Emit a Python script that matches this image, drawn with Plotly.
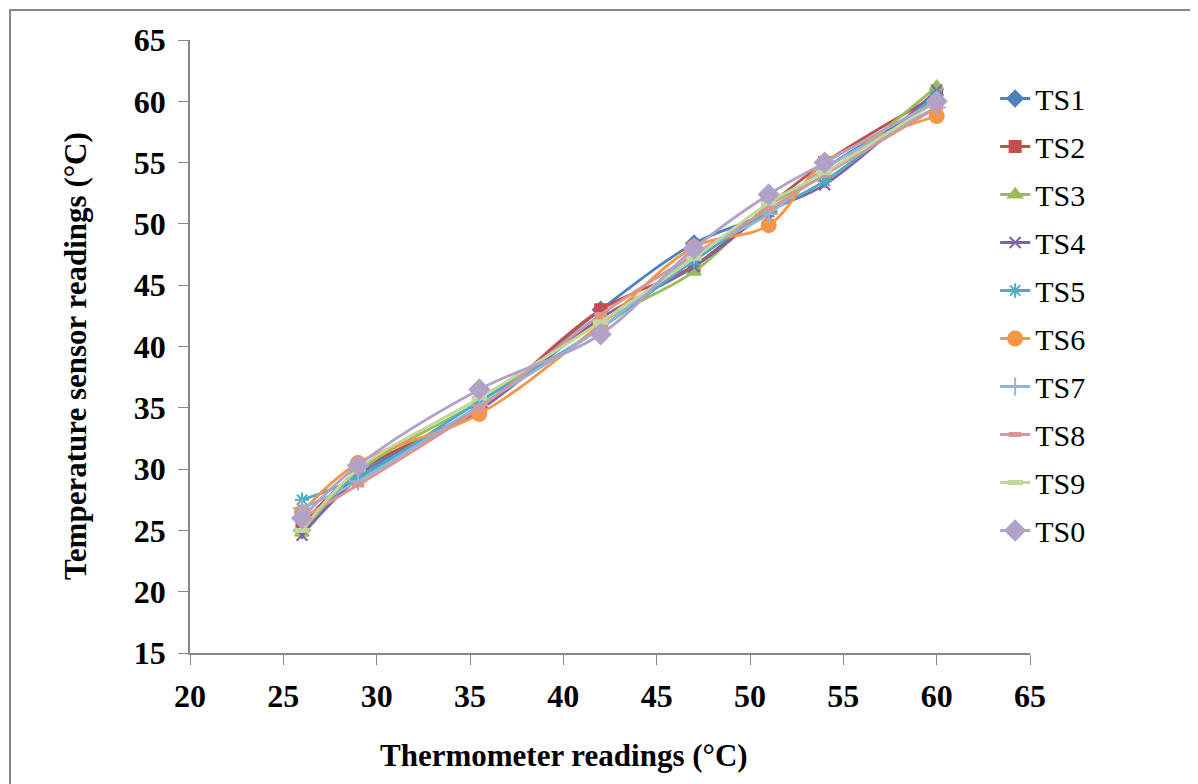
import plotly.graph_objects as go

# Thermometer readings (°C)
termometro = [26, 29, 35.5, 42, 47, 51, 54, 60]

# Temperature sensor readings (°C)
ts1 = [25.0, 29.5, 35.0, 43.0, 48.4, 51.0, 54.5, 60.0]
ts2 = [25.5, 29.8, 35.0, 43.0, 46.6, 51.5, 55.0, 60.5]
ts3 = [24.8, 29.8, 35.5, 42.0, 46.1, 51.5, 54.0, 61.2]
ts4 = [24.6, 29.2, 34.8, 42.3, 46.5, 51.0, 53.2, 60.9]
ts5 = [27.5, 29.3, 35.5, 41.5, 47.0, 51.0, 53.5, 60.5]
ts6 = [26.5, 30.5, 34.5, 41.8, 48.1, 49.9, 55.0, 58.8]
ts7 = [26.8, 29.0, 35.2, 41.5, 47.5, 50.8, 54.5, 59.5]
ts8 = [26.0, 28.7, 35.0, 42.6, 47.5, 51.2, 54.0, 59.5]
ts9 = [25.0, 30.0, 35.8, 42.0, 47.2, 51.7, 54.2, 60.0]
ts0 = [26.0, 30.3, 36.5, 41.0, 48.0, 52.4, 55.0, 60.0]

nombres = ['TS1', 'TS2', 'TS3', 'TS4', 'TS5', 'TS6', 'TS7', 'TS8', 'TS9', 'TS0']
series = [ts1, ts2, ts3, ts4, ts5, ts6, ts7, ts8, ts9, ts0]
colores = ['#4F81BD', '#C0504D', '#9BBB59', '#8064A2', '#4BACC6',
           '#F79646', '#95B3D7', '#DA9694', '#C3D69B', '#B3A2C7']
marcadores = [
    dict(symbol='diamond', size=12),
    dict(symbol='square', size=11),
    dict(symbol='triangle-up', size=12),
    dict(symbol='x-thin', size=11),
    dict(symbol='asterisk', size=12),
    dict(symbol='circle', size=14),
    dict(symbol='cross-thin', size=13),
    dict(symbol='line-ew', size=9),
    dict(symbol='line-ew', size=11),
    dict(symbol='diamond', size=15),
]

serif = 'Liberation Serif'

fig = go.Figure()
for nombre, valores, color, m in zip(nombres, series, colores, marcadores):
    lw = 2
    if m['symbol'] == 'line-ew':
        lw = 5
    fig.add_trace(go.Scatter(
        x=termometro, y=valores, name=nombre, legendgroup=nombre,
        mode='lines+markers',
        line=dict(color=color, width=2.8, shape='spline', smoothing=1),
        marker=dict(symbol=m['symbol'], size=m['size'], color=color,
                    line=dict(color=color, width=lw)),
    ))

eje_fuente = dict(family=serif, size=32, color='black')

# la página html añade 8 px de margen al cuerpo
fig.update_layout(
    width=1198, height=784,
    paper_bgcolor='white', plot_bgcolor='white',
    margin=dict(l=182, r=176, t=32, b=139),
    font=dict(family=serif, color='black'),
    showlegend=True,
    legend=dict(x=0.9585, y=0.947, xanchor='left', yanchor='top',
                font=dict(size=30),
                tracegroupgap=6, bgcolor='rgba(0,0,0,0)'),
    xaxis=dict(range=[20, 65], tick0=20, dtick=5, showgrid=False, zeroline=False,
               showline=True, linecolor='#868686', linewidth=1.5,
               ticks='outside', ticklen=10, tickcolor='#868686',
               tickfont=eje_fuente, ticklabelstandoff=4),
    yaxis=dict(range=[15, 65], tick0=15, dtick=5, showgrid=False, zeroline=False,
               showline=True, linecolor='#868686', linewidth=1.5,
               ticks='outside', ticklen=10, tickcolor='#868686',
               tickfont=eje_fuente, ticklabelstandoff=6),
)

# Títulos de ejes como anotaciones (posición del original)
fig.add_annotation(text='<b>Thermometer readings (°C)</b>', xref='paper', yref='paper',
                   x=(564 - 190) / 840, y=-(755 - 653) / 613, showarrow=False,
                   xanchor='center', yanchor='middle',
                   font=dict(family=serif, size=31, color='black'))
fig.add_annotation(text='<b>Temperature sensor readings (°C)</b>', xref='paper', yref='paper',
                   x=(75 - 190) / 840, y=(653 - 356) / 613, showarrow=False, textangle=-90,
                   xanchor='center', yanchor='middle',
                   font=dict(family=serif, size=31, color='black'))

# Marco exterior del gráfico
fig.add_shape(type='rect', xref='paper', yref='paper',
              x0=(10 - 190) / 840, x1=(1210 - 190) / 840,
              y0=-(800 - 653) / 613, y1=1 + 30 / 613,
              line=dict(color='#868686', width=2), layer='below')

fig.update_xaxes(tickprefix='<b>', ticksuffix='</b>')
fig.update_yaxes(tickprefix='<b>', ticksuffix='</b>')

fig.write_html("out.html")
